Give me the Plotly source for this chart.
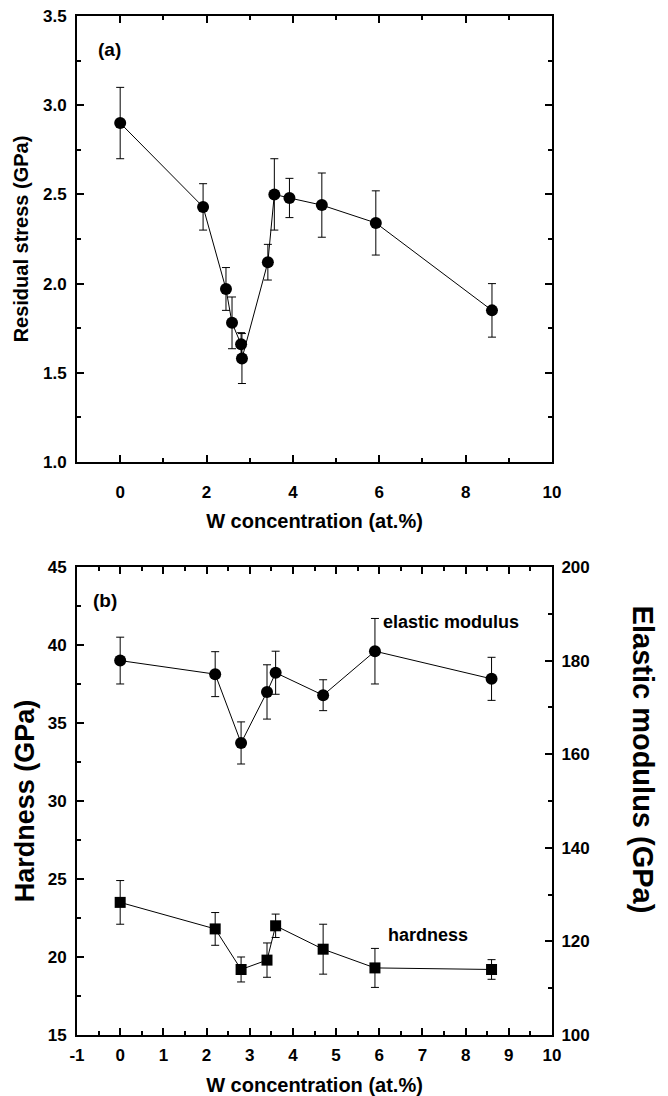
import plotly.graph_objects as go

# Panel (a): residual stress vs W concentration
w_a = [0.0, 1.92, 2.45, 2.59, 2.80, 2.82, 3.42, 3.57, 3.92, 4.67, 5.92, 8.61]
stress = [2.90, 2.43, 1.97, 1.78, 1.66, 1.58, 2.12, 2.50, 2.48, 2.44, 2.34, 1.85]
stress_err = [0.20, 0.13, 0.12, 0.145, 0.065, 0.14, 0.10, 0.20, 0.11, 0.18, 0.18, 0.15]

# Panel (b): hardness and elastic modulus
w_b = [0.0, 2.2, 2.8, 3.4, 3.6, 4.7, 5.9, 8.6]
modulus = [180.0, 177.1, 162.4, 173.3, 177.4, 172.6, 182.0, 176.1]
modulus_err = [5.0, 4.8, 4.5, 5.8, 4.6, 3.3, 7.0, 4.6]
hardness = [23.5, 21.8, 19.2, 19.8, 22.0, 20.5, 19.3, 19.2]
hardness_err = [1.4, 1.05, 0.8, 1.1, 0.75, 1.6, 1.25, 0.63]

# Tick labels
xa_ticks = [0, 2, 4, 6, 8, 10]
xb_ticks = [-1, 0, 1, 2, 3, 4, 5, 6, 7, 8, 9, 10]
xb_labels = ["-1", "0", "1", "2", "3", "4", "5", "6", "7", "8", "9", "10"]

FONT = "Liberation Sans, Arial, Helvetica, sans-serif"
BLACK = "black"

fig = go.Figure()

def trace(x, y, err, xa, ya, symbol, size):
    return go.Scatter(
        x=x, y=y, xaxis=xa, yaxis=ya, mode="lines+markers",
        line=dict(color=BLACK, width=1),
        marker=dict(symbol=symbol, size=size, color=BLACK),
        error_y=dict(type="data", array=err, visible=True, color=BLACK,
                     thickness=1, width=4),
        showlegend=False, hoverinfo="x+y",
    )

fig.add_trace(trace(w_a, stress, stress_err, "x", "y", "circle", 12))
fig.add_trace(trace(w_b, modulus, modulus_err, "x2", "y3", "circle", 12))
fig.add_trace(trace(w_b, hardness, hardness_err, "x2", "y2", "square", 11))

tickfont = dict(family=FONT, size=17, color=BLACK, weight="bold")
titlefont = dict(family=FONT, size=20, color=BLACK, weight="bold")
hard_font = dict(family=FONT, size=27, color=BLACK, weight="bold")
el_font = dict(family=FONT, size=29, color=BLACK, weight="bold")

common = dict(showgrid=False, zeroline=False, showline=True, linecolor=BLACK,
              linewidth=2, ticks="inside", ticklen=7, tickwidth=1.5,
              tickcolor=BLACK, tickfont=tickfont, automargin=False)

minor_style = dict(ticks="inside", ticklen=4, tickwidth=1.5, tickcolor=BLACK)

top_y0 = 0.5623
bot_y1 = 0.4593

fig.update_layout(
    template="none",
    width=668, height=1096,
    margin=dict(l=77, r=116, t=16, b=61),
    paper_bgcolor="white", plot_bgcolor="white",
    font=dict(family=FONT, color=BLACK),
    xaxis=dict(domain=[0, 1], anchor="y", range=[-1, 10],
               tickvals=xa_ticks, ticktext=[str(v) for v in xa_ticks],
               mirror="ticks", ticklabelstandoff=14,
               minor=dict(dtick=1, **minor_style),
               title=dict(text="W concentration (at.%)", font=titlefont, standoff=13),
               **common),
    yaxis=dict(domain=[top_y0, 1], anchor="x", range=[1, 3.5], tick0=1, dtick=0.5,
               tickformat=".1f", mirror="ticks", ticklabelstandoff=5,
               minor=dict(dtick=0.25, **minor_style),
               title=dict(text="Residual stress (GPa)", font=titlefont, standoff=9),
               **common),
    xaxis2=dict(domain=[0, 1], anchor="y2", range=[-1, 10],
                tickvals=xb_ticks, ticktext=xb_labels,
                mirror="ticks", ticklabelstandoff=4,
                minor=dict(dtick=0.5, **minor_style),
                title=dict(text="W concentration (at.%)", font=titlefont, standoff=14),
                **common),
    yaxis2=dict(domain=[0, bot_y1], anchor="x2", range=[15, 45], tick0=15, dtick=5,
                ticklabelstandoff=5,
                minor=dict(dtick=2.5, **minor_style),
                title=dict(text="Hardness (GPa)", font=hard_font, standoff=5),
                **common),
    yaxis3=dict(overlaying="y2", anchor="x2", side="right", range=[100, 200],
                tick0=100, dtick=20, ticklabelstandoff=4,
                minor=dict(dtick=10, **minor_style),
                **common),
)

ann_font = dict(family=FONT, size=19, color=BLACK, weight="bold")
lab_font = dict(family=FONT, size=18, color=BLACK, weight="bold")
fig.add_annotation(text="(a)", xref="x domain", yref="y domain", x=0.04, y=0.925,
                   xanchor="left", yanchor="middle", showarrow=False, font=ann_font)
fig.add_annotation(text="(b)", xref="x2 domain", yref="y2 domain", x=0.029, y=0.928,
                   xanchor="left", yanchor="middle", showarrow=False, font=ann_font)
fig.add_annotation(text="elastic modulus", xref="x2 domain", yref="y2 domain", x=0.641, y=0.883,
                   xanchor="left", yanchor="middle", showarrow=False, font=lab_font)
fig.add_annotation(text="hardness", xref="x2 domain", yref="y2 domain", x=0.65, y=0.214,
                   xanchor="left", yanchor="middle", showarrow=False, font=lab_font)
fig.add_annotation(text="Elastic modulus (GPa)", xref="paper", yref="y2 domain",
                   x=1.192, y=0.588, textangle=90, xanchor="center", yanchor="middle",
                   showarrow=False, font=el_font)

fig.write_html("out.html", config={"displayModeBar": False},
               post_script="document.body.style.margin='0px';document.body.style.overflow='hidden';")
